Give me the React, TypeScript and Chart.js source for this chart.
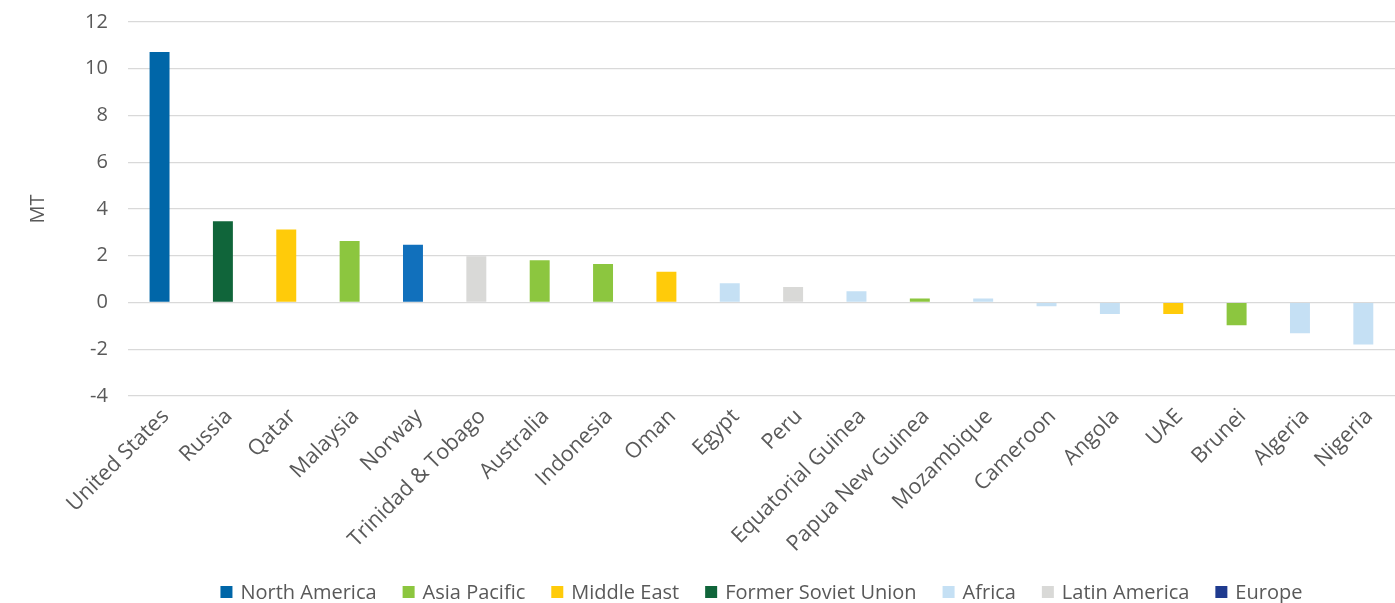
import React, { useEffect, useRef } from "react";
import { Chart, registerables } from "chart.js";

Chart.register(...registerables);

const countries = [
  "United States", "Russia", "Qatar", "Malaysia", "Norway", "Trinidad & Tobago",
  "Australia", "Indonesia", "Oman", "Egypt", "Peru", "Equatorial Guinea",
  "Papua New Guinea", "Mozambique", "Cameroon", "Angola", "UAE", "Brunei",
  "Algeria", "Nigeria",
];
const values = [
  10.72, 3.47, 3.12, 2.63, 2.47, 1.98, 1.8, 1.64, 1.31, 0.82, 0.66, 0.48,
  0.17, 0.17, -0.16, -0.5, -0.5, -0.98, -1.32, -1.8,
];
const countryRegions = [
  "North America", "Former Soviet Union", "Middle East", "Asia Pacific", "Europe",
  "Latin America", "Asia Pacific", "Asia Pacific", "Middle East", "Africa",
  "Latin America", "Africa", "Asia Pacific", "Africa", "Africa", "Africa",
  "Middle East", "Asia Pacific", "Africa", "Africa",
];
const regions = [
  "North America", "Asia Pacific", "Middle East", "Former Soviet Union",
  "Africa", "Latin America", "Europe",
];
const regionBarColors = [
  "#0066a8", "#8cc63f", "#ffcb0a", "#10653a", "#c5e0f4", "#d9d9d7", "#1170bc",
];
const regionLegendColors = [
  "#0066a8", "#8cc63f", "#ffcb0a", "#10653a", "#c5e0f4", "#d9d9d7", "#1f3b8f",
];
const yTicks = [-4, -2, 0, 2, 4, 6, 8, 10, 12];

const FONT_FAMILY = "'Open Sans'";
const TEXT_COLOR = "#595959";

const bottomLegend = {
  id: "bottomLegend",
  afterDraw(chart: any) {
    const ctx = chart.ctx as CanvasRenderingContext2D;
    const area = chart.chartArea;
    const box = 12;
    const boxGap = 8;
    const itemGap = 26;
    ctx.save();
    ctx.font = `20px ${FONT_FAMILY}`;
    const widths = regions.map((r) => box + boxGap + ctx.measureText(r).width);
    const total = widths.reduce((a, b) => a + b, 0) + itemGap * (regions.length - 1);
    let x = (area.left + area.right) / 2 - total / 2;
    const y = chart.height - 11;
    ctx.textBaseline = "middle";
    ctx.textAlign = "left";
    regions.forEach((r, i) => {
      ctx.fillStyle = regionLegendColors[i];
      ctx.fillRect(x, y - box / 2, box, box);
      ctx.fillStyle = TEXT_COLOR;
      ctx.fillText(r, x + box + boxGap, y + 1);
      x += widths[i] + itemGap;
    });
    ctx.restore();
  },
};

export default function App() {
  const ref = useRef<HTMLCanvasElement | null>(null);
  useEffect(() => {
    document.body.style.margin = "0";
    const ctx = ref.current;
    if (!ctx) return;
    const datasets = regions.map((r, ri) => ({
      label: r,
      data: values.map((v, i) => (countryRegions[i] === r ? v : null)),
      backgroundColor: regionBarColors[ri],
      borderWidth: 0,
      grouped: false,
      barPercentage: 0.315,
      categoryPercentage: 1,
    }));
    const font = { family: FONT_FAMILY, size: 20 };
    const chart = new Chart(ctx, {
      type: "bar",
      data: { labels: countries, datasets },
      options: {
        animation: false,
        responsive: false,
        maintainAspectRatio: false,
        layout: { padding: { left: 20, right: 0, top: 0, bottom: 46 } },
        plugins: {
          tooltip: { enabled: false },
          legend: { display: false },
        },
        scales: {
          x: {
            grid: { display: false },
            border: { display: false },
            ticks: {
              minRotation: 45,
              maxRotation: 45,
              autoSkip: false,
              color: TEXT_COLOR,
              font: { family: FONT_FAMILY, size: 21.5 },
              padding: 0,
              labelOffset: 6,
            },
          },
          y: {
            min: -4,
            max: 12,
            afterBuildTicks: (axis: any) => {
              axis.ticks = yTicks.map((v) => ({ value: v }));
            },
            afterFit: (axis: any) => {
              axis.paddingTop = 22;
              axis.paddingBottom = 12;
            },
            grid: { color: "#d9d9d9", lineWidth: 1.3, drawTicks: false },
            border: { display: false },
            ticks: {
              color: TEXT_COLOR,
              font,
              padding: 20,
            },
            title: {
              display: true,
              text: "MT",
              color: TEXT_COLOR,
              font,
              padding: { top: 6, bottom: 15 },
            },
          },
        },
      },
      plugins: [bottomLegend],
    });
    return () => chart.destroy();
  }, []);
  return (
    <div style={{ width: 1395, height: 603 }}>
      <canvas ref={ref} width={1395} height={603} style={{ width: 1395, height: 603 }} />
    </div>
  );
}
